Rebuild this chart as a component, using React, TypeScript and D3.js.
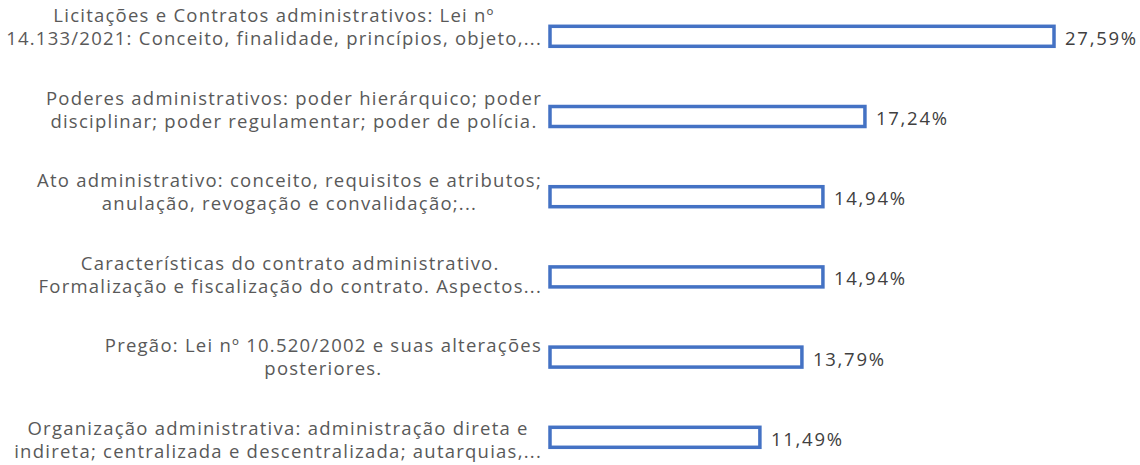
import React, { useEffect, useRef } from "react";
import * as d3 from "d3";

const categories: string[][] = [
  ["Licitações e Contratos administrativos: Lei nº", "14.133/2021: Conceito, finalidade, princípios, objeto,..."],
  ["Poderes administrativos: poder hierárquico; poder", "disciplinar; poder regulamentar; poder de polícia."],
  ["Ato administrativo: conceito, requisitos e atributos;", "anulação, revogação e convalidação;..."],
  ["Características do contrato administrativo.", "Formalização e fiscalização do contrato. Aspectos..."],
  ["Pregão: Lei nº 10.520/2002 e suas alterações", "posteriores."],
  ["Organização administrativa: administração direta e", "indireta; centralizada e descentralizada; autarquias,..."],
];
const values: number[] = [27.59, 17.24, 14.94, 14.94, 13.79, 11.49];
const valueLabels: string[] = ["27,59%", "17,24%", "14,94%", "14,94%", "13,79%", "11,49%"];

const W = 1140;
const H = 465;

export default function App() {
  const ref = useRef<SVGSVGElement | null>(null);
  useEffect(() => {
    const svg = d3.select(ref.current);
    svg.selectAll("*").remove();
    const idx = categories.map((_, i) => String(i));
    const y = d3.scaleBand<string>().domain(idx).range([-3.8, 477.4]).padding(0);
    const yLab = d3.scalePoint<string>().domain(idx).range([27, 440]);
    const x = d3.scaleLinear().domain([0, 27.59]).range([550, 1054]);
    const barH = 20;
    const font = "'Open Sans', sans-serif";

    const g = svg.append("g");
    idx.forEach((k, i) => {
      const cy = (y(k) as number) + y.bandwidth() / 2;
      g.append("rect")
        .attr("x", x(0))
        .attr("y", cy - barH / 2)
        .attr("width", x(values[i]) - x(0))
        .attr("height", barH)
        .attr("fill", "#ffffff")
        .attr("stroke", "#4472C4")
        .attr("stroke-width", 3.5);
      g.append("text")
        .attr("x", x(values[i]) + 11)
        .attr("y", cy + 2)
        .attr("dy", "0.35em")
        .attr("font-family", font)
        .attr("font-size", 18.5)
        .attr("letter-spacing", 1.75)
        .attr("fill", "#404040")
        .text(valueLabels[i]);

      const lines = categories[i];
      const ly = yLab(k) as number;
      const lg = g.append("g");
      const texts = lines.map((ln, j) =>
        lg
          .append("text")
          .attr("y", ly + (j - (lines.length - 1) / 2) * 23)
          .attr("dy", "0.35em")
          .attr("font-family", font)
          .attr("font-size", 18.5)
          .attr("letter-spacing", 1.24)
          .attr("fill", "#595959")
          .attr("text-anchor", "middle")
          .text(ln)
      );
      const widths = texts.map((t) => (t.node() as SVGTextElement).getComputedTextLength());
      const maxW = d3.max(widths) as number;
      const center = 542 - maxW / 2;
      texts.forEach((t) => t.attr("x", center));
    });
  }, []);
  return (
    <svg
      ref={ref}
      width={W}
      height={H}
      style={{ position: "absolute", left: 0, top: 0, background: "#fff" }}
    />
  );
}
